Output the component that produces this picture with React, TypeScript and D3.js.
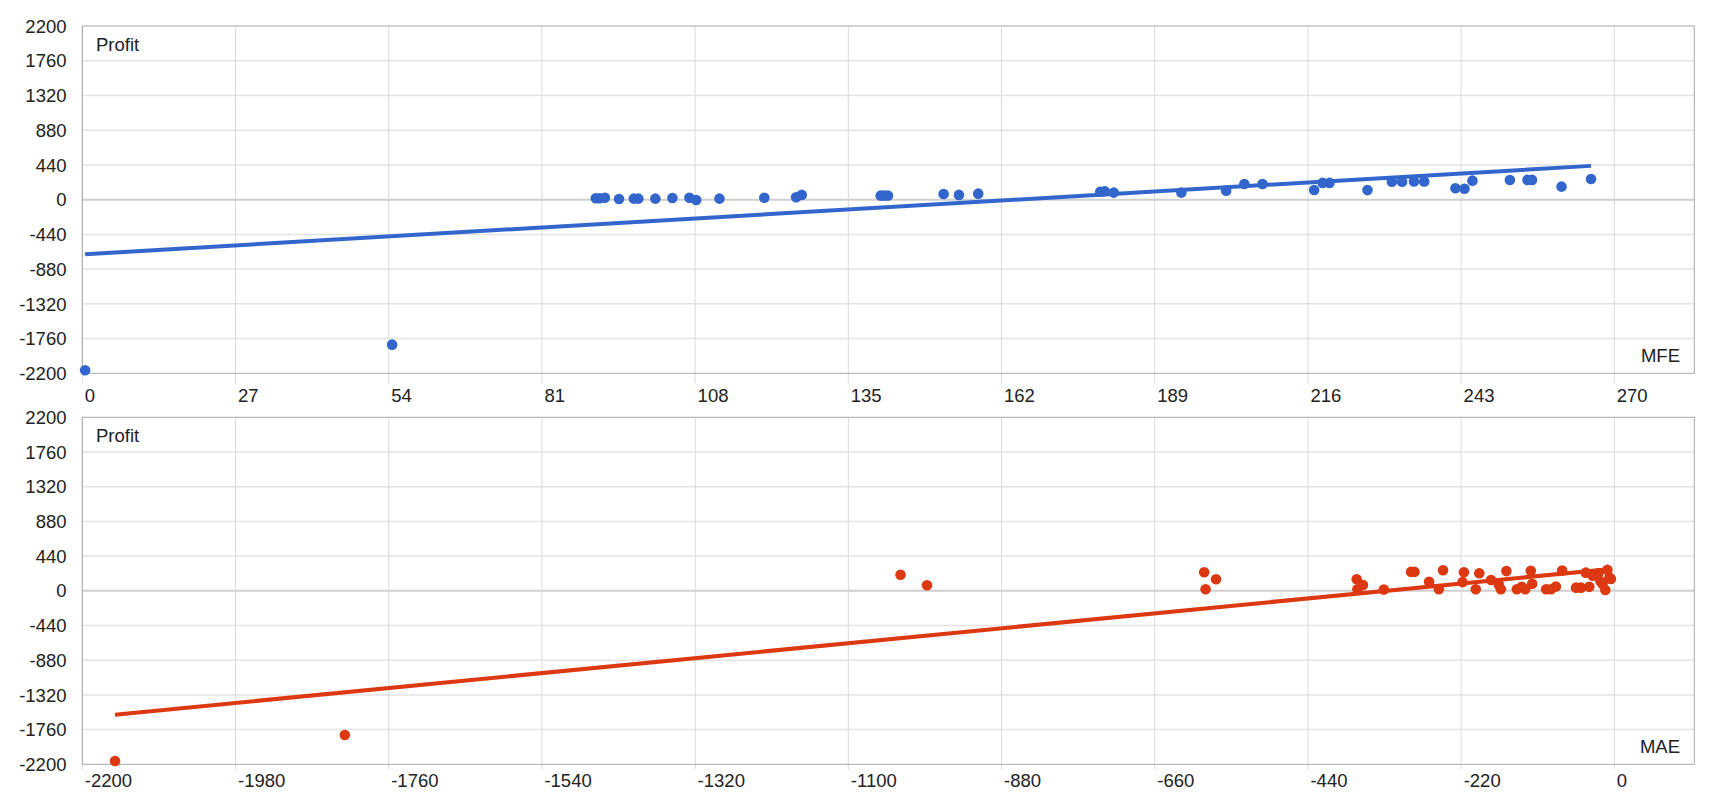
import { useMemo } from "react";
import * as d3 from "d3";

// ── Data ──────────────────────────────────────────────────────
// MFE vs profit, one entry per trade
const MFE_X = [
  0.5, 54.6, 90.5, 91.2, 92.1, 94.6, 97.2, 98.0, 101.0, 104.0, 107.0, 108.2, 112.3,
  120.2, 125.8, 126.8, 140.7, 141.3, 142.0, 151.8, 154.5, 157.9, 179.4, 180.2, 181.8,
  193.7, 201.6, 204.8, 208.0, 217.1, 218.6, 219.8, 226.5, 230.8, 232.6, 234.7, 236.5,
  242.0, 243.6, 245.0, 251.6, 254.7, 255.5, 260.7, 265.9,
];
const MFE_PROFIT = [
  -2161, -1837, 18, 18, 25, 9, 13, 13, 13, 21, 25, -4, 13,
  25, 30, 60, 51, 51, 51, 72, 60, 76, 101, 106, 89,
  89, 114, 199, 199, 123, 212, 212, 121, 228, 228, 230, 230,
  144, 139, 241, 248, 250, 250, 165, 262,
];

// MAE vs profit
const MAE_X = [
  -2153, -1823, -1025, -987, -589, -572, -587, -370, -369, -361, -331, -292, -287,
  -266, -252, -246, -216, -218, -199, -194, -177, -166, -163, -155, -140, -133, -128,
  -120, -118, -98, -91, -84, -75, -55, -48, -41, -36, -31, -23, -20, -17, -13, -10, -7, -5,
];
const MAE_PROFIT = [
  -2158, -1829, 204, 70, 235, 146, 19, 146, 19, 74, 15, 240, 240,
  115, 19, 260, 235, 110, 19, 222, 137, 80, 19, 250, 19, 51, 19,
  255, 90, 19, 19, 55, 258, 40, 40, 230, 50, 190, 222, 120, 86, 10, 265, 170, 150,
];

const Y_TICKS = [2200, 1760, 1320, 880, 440, 0, -440, -880, -1320, -1760, -2200];
const MFE_TICKS = [0, 27, 54, 81, 108, 135, 162, 189, 216, 243, 270];
const MAE_TICKS = [-2200, -1980, -1760, -1540, -1320, -1100, -880, -660, -440, -220, 0];

// ── Layout ────────────────────────────────────────────────────
const W = 1720;
const H = 800;
const LEFT = 82.3;
const RIGHT = 1694.3;
const FONT = "'Liberation Sans', Arial, sans-serif";

interface PanelProps {
  xs: number[];
  ys: number[];
  xDomain: [number, number];
  xTicks: number[];
  color: string;
  top: number;
  bottom: number;
  axisLabel: string;
  tickLen: number;
  labelGap: number;
}

function Panel({ xs, ys, xDomain, xTicks, color, top, bottom, axisLabel, tickLen, labelGap }: PanelProps) {
  const x = d3.scaleLinear().domain(xDomain).range([LEFT, RIGHT]);
  const y = d3.scaleLinear().domain([-2200, 2200]).range([bottom, top]);

  // least squares trend line across the data's x extent
  const trend = useMemo(() => {
    const mx = d3.mean(xs) as number;
    const my = d3.mean(ys) as number;
    let sxy = 0;
    let sxx = 0;
    xs.forEach((v, i) => {
      sxy += (v - mx) * (ys[i] - my);
      sxx += (v - mx) * (v - mx);
    });
    const slope = sxy / sxx;
    const [x0, x1] = d3.extent(xs) as [number, number];
    return [
      [x0, my + slope * (x0 - mx)],
      [x1, my + slope * (x1 - mx)],
    ] as [number, number][];
  }, [xs, ys]);

  const line = d3.line<[number, number]>().x((d) => x(d[0])).y((d) => y(d[1]));

  return (
    <g>
      {/* gridlines */}
      {Y_TICKS.filter((t) => t !== 0 && t !== -2200 && t !== 2200).map((t) => (
        <line key={"h" + t} x1={LEFT} x2={RIGHT} y1={y(t)} y2={y(t)} stroke="#e3e3e3" strokeWidth={1.5} />
      ))}
      {xTicks.map((t) => (
        <line key={"v" + t} x1={x(t)} x2={x(t)} y1={top} y2={bottom + tickLen} stroke="#dadada" strokeWidth={1} />
      ))}
      <line x1={LEFT} x2={RIGHT} y1={y(0)} y2={y(0)} stroke="#cfcfcf" strokeWidth={2} />
      <rect x={LEFT} y={top} width={RIGHT - LEFT} height={bottom - top} fill="none" stroke="#a8a8a8" strokeWidth={1} />

      {/* y tick labels */}
      {Y_TICKS.map((t) => (
        <text key={"yl" + t} x={66.5} y={y(t)} dy="0.36em" textAnchor="end" fontSize={18.5} fill="#222">
          {t}
        </text>
      ))}
      {/* x tick labels */}
      {xTicks.map((t) => (
        <text key={"xl" + t} x={x(t) + 2.5} y={bottom + labelGap} fontSize={18.5} fill="#222">
          {t}
        </text>
      ))}

      <text x={96} y={top + 25} fontSize={18.5} fill="#222">Profit</text>
      <text x={1680} y={bottom - 11} textAnchor="end" fontSize={18.5} fill="#222">{axisLabel}</text>

      <path d={line(trend) ?? ""} fill="none" stroke={color} strokeWidth={4} />
      {xs.map((v, i) => (
        <circle key={i} cx={x(v)} cy={y(ys[i])} r={5.3} fill={color} />
      ))}
    </g>
  );
}

export default function App() {
  return (
    <svg
      width={W}
      height={H}
      style={{ position: "absolute", left: 0, top: 0, background: "#fff" }}
      fontFamily={FONT}
    >
      <rect width={W} height={H} fill="#fff" />
      <Panel
        xs={MFE_X}
        ys={MFE_PROFIT}
        xDomain={[0, 284.1]}
        xTicks={MFE_TICKS}
        color="#3366cc"
        top={26}
        bottom={373.3}
        axisLabel="MFE"
        tickLen={10}
        labelGap={28.4}
      />
      <Panel
        xs={MAE_X}
        ys={MAE_PROFIT}
        xDomain={[-2200, 114.8]}
        xTicks={MAE_TICKS}
        color="#dc3912"
        top={417.3}
        bottom={764.3}
        axisLabel="MAE"
        tickLen={5}
        labelGap={23}
      />
    </svg>
  );
}
